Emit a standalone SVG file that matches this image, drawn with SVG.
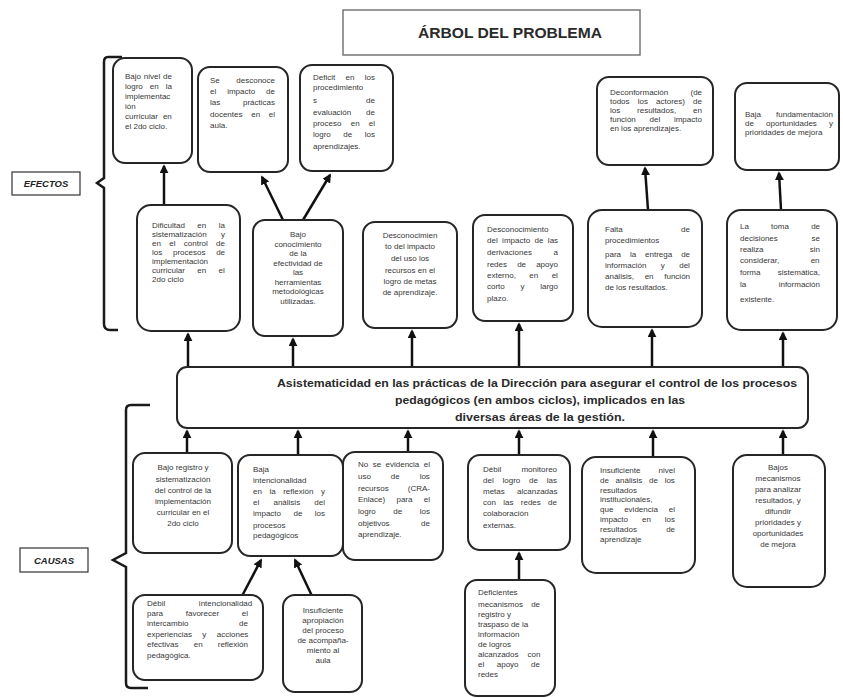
<svg xmlns="http://www.w3.org/2000/svg" width="843" height="698" viewBox="0 0 843 698">
  <style>
    .box { fill: #fff; stroke: #262626; stroke-width: 2; }
    .t { font-family: "Liberation Sans", Arial, sans-serif; font-size: 8px; fill: #383838; }
    .c { text-anchor: middle; }
    .lbl { font-family: "Liberation Sans", Arial, sans-serif; font-size: 9.5px; font-weight: bold; font-style: italic; fill: #222; }
    .arr { stroke: #111; stroke-width: 2.5; fill: none; marker-end: url(#ah); }
    .brace { stroke: #1a1a1a; stroke-width: 2.5; fill: none; }
  </style>
  <defs>
    <marker id="ah" viewBox="0 0 10 10" refX="8" refY="5" markerWidth="9" markerHeight="9" markerUnits="userSpaceOnUse" orient="auto">
      <path d="M0,0 L10,5 L0,10 z" fill="#111"/>
    </marker>
  </defs>
  <rect width="843" height="698" fill="#fff"/>

  <!-- title -->
  <g id="title">
    <rect x="343" y="10" width="297" height="45" fill="#fff" stroke="#777" stroke-width="1.5"/>
    <text x="510" y="38" text-anchor="middle" textLength="184" lengthAdjust="spacingAndGlyphs" style="font-family:'Liberation Sans',Arial,sans-serif;font-size:15px;font-weight:bold;fill:#2a2a2a">ÁRBOL DEL PROBLEMA</text>
  </g>

  <!-- side labels with braces -->
  <g id="efectos">
    <path class="brace" d="M122,57 L108,57 Q104,57 104,62 L104,178 L97,183 L104,188 L104,324 Q104,330 110,330 L118,330"/>
    <rect x="12" y="172" width="68" height="23" fill="#fff" stroke="#333" stroke-width="1.2"/>
    <text class="lbl" x="46" y="187" text-anchor="middle">EFECTOS</text>
  </g>
  <g id="causas">
    <path class="brace" d="M150,405 L131,405 Q126,405 126,410 L126,553 L113,560 L126,567 L126,683 Q126,688 131,688 L148,688"/>
    <rect x="20" y="548" width="68" height="24" fill="#fff" stroke="#333" stroke-width="1.2"/>
    <text class="lbl" x="54" y="564" text-anchor="middle">CAUSAS</text>
  </g>

  <!-- connectors -->
  <g id="connectors">
    <line class="arr" x1="164" y1="205" x2="164" y2="166"/>
    <line class="arr" x1="283" y1="220" x2="262" y2="177"/>
    <line class="arr" x1="303" y1="220" x2="330" y2="175"/>
    <line class="arr" x1="648" y1="210" x2="645" y2="168"/>
    <line class="arr" x1="781" y1="210" x2="779" y2="173"/>

    <line class="arr" x1="188" y1="367" x2="188" y2="334"/>
    <line class="arr" x1="293" y1="367" x2="293" y2="339"/>
    <line class="arr" x1="412" y1="367" x2="412" y2="331"/>
    <line class="arr" x1="519" y1="367" x2="519" y2="324"/>
    <line class="arr" x1="652" y1="367" x2="652" y2="330"/>
    <line class="arr" x1="783" y1="367" x2="783" y2="333"/>

    <line class="arr" x1="187" y1="453" x2="187" y2="431"/>
    <line class="arr" x1="298" y1="455" x2="298" y2="431"/>
    <line class="arr" x1="408" y1="452" x2="408" y2="431"/>
    <line class="arr" x1="519" y1="455" x2="519" y2="431"/>
    <line class="arr" x1="653" y1="457" x2="653" y2="431"/>
    <line class="arr" x1="783" y1="455" x2="783" y2="431"/>

    <line class="arr" x1="242" y1="596" x2="261" y2="560"/>
    <line class="arr" x1="312" y1="596" x2="295" y2="560"/>
    <line class="arr" x1="519" y1="580" x2="519" y2="553"/>
  </g>

  <!-- effects, top row -->
  <g id="e1">
    <rect class="box" x="113" y="58" width="79" height="105" rx="12"/>
    <text class="t" x="125" y="79" style="word-spacing:0.6px">Bajo nivel de</text>
    <text class="t" x="125" y="89" style="word-spacing:4.8px">logro en la</text>
    <text class="t" x="125" y="99">implementac</text>
    <text class="t" x="125" y="109">ión</text>
    <text class="t" x="125" y="119" style="word-spacing:2.8px">curricular en</text>
    <text class="t" x="125" y="129">el 2do ciclo.</text>
  </g>
  <g id="e2">
    <rect class="box" x="198" y="67" width="90" height="105" rx="12"/>
    <text class="t" x="210" y="83" style="word-spacing:14.3px">Se desconoce</text>
    <text class="t" x="210" y="94" style="word-spacing:8.7px">el impacto de</text>
    <text class="t" x="210" y="105" style="word-spacing:20.5px">las prácticas</text>
    <text class="t" x="210" y="117" style="word-spacing:6.5px">docentes en el</text>
    <text class="t" x="210" y="128">aula.</text>
  </g>
  <g id="e3">
    <rect class="box" x="300" y="65" width="93" height="106" rx="12"/>
    <text class="t" x="313" y="80" style="word-spacing:8.1px">Deficit en los</text>
    <text class="t" x="313" y="90">procedimiento</text>
    <text class="t" x="313" y="103" style="word-spacing:46.9px">s de</text>
    <text class="t" x="313" y="115" style="word-spacing:12.6px">evaluación de</text>
    <text class="t" x="313" y="126" style="word-spacing:7px">proceso en el</text>
    <text class="t" x="313" y="137" style="word-spacing:10.3px">logro de los</text>
    <text class="t" x="313" y="149">aprendizajes.</text>
  </g>
  <g id="e4">
    <rect class="box" x="597" y="77" width="116" height="88" rx="12"/>
    <text class="t" x="610" y="95" style="word-spacing:20px">Deconformación (de</text>
    <text class="t" x="610" y="104" style="word-spacing:5.9px">todos los actores) de</text>
    <text class="t" x="610" y="113" style="word-spacing:14.6px">los resultados, en</text>
    <text class="t" x="610" y="122" style="word-spacing:11.5px">función del impacto</text>
    <text class="t" x="610" y="131">en los aprendizajes.</text>
  </g>
  <g id="e5">
    <rect class="box" x="735" y="83" width="104" height="87" rx="12"/>
    <text class="t" x="745" y="117" style="word-spacing:12.8px">Baja fundamentación</text>
    <text class="t" x="745" y="126" style="word-spacing:10px">de oportunidades y</text>
    <text class="t" x="745" y="135">prioridades de mejora</text>
  </g>

  <!-- effects, second row -->
  <g id="eA">
    <rect class="box" x="137" y="205" width="103" height="126" rx="14"/>
    <text class="t" x="152" y="228" style="word-spacing:10.2px">Dificultad en la</text>
    <text class="t" x="152" y="237" style="word-spacing:12.1px">sistematización y</text>
    <text class="t" x="152" y="246" style="word-spacing:6.1px">en el control de</text>
    <text class="t" x="152" y="255" style="word-spacing:8.5px">los procesos de</text>
    <text class="t" x="152" y="264">implementación</text>
    <text class="t" x="152" y="273" style="word-spacing:10.1px">curricular en el</text>
    <text class="t" x="152" y="282">2do ciclo</text>
  </g>
  <g id="eB">
    <rect class="box" x="253" y="220" width="90" height="116" rx="12"/>
    <text class="t c" x="298" y="237">Bajo</text>
    <text class="t c" x="298" y="246.5">conocimiento</text>
    <text class="t c" x="298" y="256">de la</text>
    <text class="t c" x="298" y="265.5">efectividad de</text>
    <text class="t c" x="298" y="275">las</text>
    <text class="t c" x="298" y="284.5">herramientas</text>
    <text class="t c" x="298" y="294">metodológicas</text>
    <text class="t c" x="298" y="303.5">utilizadas.</text>
  </g>
  <g id="eC">
    <rect class="box" x="363" y="222" width="94" height="106" rx="12"/>
    <text class="t c" x="410" y="238">Desconocimien</text>
    <text class="t c" x="410" y="249">to del impacto</text>
    <text class="t c" x="410" y="261">del uso los</text>
    <text class="t c" x="410" y="273">recursos en el</text>
    <text class="t c" x="410" y="284">logro de metas</text>
    <text class="t c" x="410" y="295">de aprendizaje.</text>
  </g>
  <g id="eD">
    <rect class="box" x="473" y="215" width="100" height="106" rx="12"/>
    <text class="t" x="487" y="232">Desconocimiento</text>
    <text class="t" x="487" y="243" style="word-spacing:2.2px">del impacto de las</text>
    <text class="t" x="487" y="255" style="word-spacing:19.4px">derivaciones a</text>
    <text class="t" x="487" y="267" style="word-spacing:7.9px">redes de apoyo</text>
    <text class="t" x="487" y="278" style="word-spacing:11.2px">externo, en el</text>
    <text class="t" x="487" y="289" style="word-spacing:13.5px">corto y largo</text>
    <text class="t" x="487" y="301">plazo.</text>
  </g>
  <g id="eE">
    <rect class="box" x="588" y="210" width="114" height="117" rx="14"/>
    <text class="t" x="605" y="232" style="word-spacing:56px">Falta de</text>
    <text class="t" x="605" y="243">procedimientos</text>
    <text class="t" x="605" y="257" style="word-spacing:6.7px">para la entrega de</text>
    <text class="t" x="605" y="268" style="word-spacing:12.2px">información y del</text>
    <text class="t" x="605" y="279" style="word-spacing:8.5px">análisis, en función</text>
    <text class="t" x="605" y="290">de los resultados.</text>
  </g>
  <g id="eF">
    <rect class="box" x="727" y="210" width="110" height="120" rx="14"/>
    <text class="t" x="740" y="229" style="word-spacing:20px">La toma de</text>
    <text class="t" x="740" y="241" style="word-spacing:31.5px">decisiones se</text>
    <text class="t" x="740" y="252" style="word-spacing:44px">realiza sin</text>
    <text class="t" x="740" y="263" style="word-spacing:29.3px">considerar, en</text>
    <text class="t" x="740" y="275" style="word-spacing:15.1px">forma sistemática,</text>
    <text class="t" x="740" y="287" style="word-spacing:30.2px">la información</text>
    <text class="t" x="740" y="302">existente.</text>
  </g>

  <!-- central problem -->
  <g id="problem">
    <rect class="box" x="177" y="367" width="631" height="61" rx="10" stroke-width="2.5"/>
    <g style="font-family:'Liberation Sans',Arial,sans-serif;font-size:11px;font-weight:bold;fill:#2a2a2a" text-anchor="middle">
      <text x="537" y="387" textLength="520" lengthAdjust="spacingAndGlyphs">Asistematicidad en las prácticas de la Dirección para asegurar el control de los procesos</text>
      <text x="540" y="404" textLength="290" lengthAdjust="spacingAndGlyphs">pedagógicos (en ambos ciclos), implicados en las</text>
      <text x="540" y="421" textLength="170" lengthAdjust="spacingAndGlyphs">diversas áreas de la gestión.</text>
    </g>
  </g>

  <!-- causes, first row -->
  <g id="cG">
    <rect class="box" x="133" y="453" width="99" height="100" rx="12"/>
    <text class="t c" x="183" y="470">Bajo registro y</text>
    <text class="t c" x="183" y="482">sistematización</text>
    <text class="t c" x="183" y="493">del control de la</text>
    <text class="t c" x="183" y="504">implementación</text>
    <text class="t c" x="183" y="515">curricular en el</text>
    <text class="t c" x="183" y="526">2do ciclo</text>
  </g>
  <g id="cH">
    <rect class="box" x="238" y="455" width="105" height="101" rx="12"/>
    <text class="t" x="253" y="472">Baja</text>
    <text class="t" x="253" y="483">intencionalidad</text>
    <text class="t" x="253" y="494" style="word-spacing:5.3px">en la reflexión y</text>
    <text class="t" x="253" y="505" style="word-spacing:12px">el análisis del</text>
    <text class="t" x="253" y="516" style="word-spacing:10.2px">impacto de los</text>
    <text class="t" x="253" y="528">procesos</text>
    <text class="t" x="253" y="538">pedagógicos</text>
  </g>
  <g id="cI">
    <rect class="box" x="343" y="452" width="100" height="108" rx="12"/>
    <text class="t" x="358" y="467" style="word-spacing:2.2px">No se evidencia el</text>
    <text class="t" x="358" y="479" style="word-spacing:17.7px">uso de los</text>
    <text class="t" x="358" y="491" style="word-spacing:16.9px">recursos (CRA-</text>
    <text class="t" x="358" y="502" style="word-spacing:9.1px">Enlace) para el</text>
    <text class="t" x="358" y="514" style="word-spacing:15.3px">logro de los</text>
    <text class="t" x="358" y="526" style="word-spacing:29.3px">objetivos de</text>
    <text class="t" x="358" y="537">aprendizaje.</text>
  </g>
  <g id="cJ">
    <rect class="box" x="468" y="455" width="102" height="95" rx="12"/>
    <text class="t" x="483" y="472" style="word-spacing:18px">Débil monitoreo</text>
    <text class="t" x="483" y="483" style="word-spacing:6.6px">del logro de las</text>
    <text class="t" x="483" y="494" style="word-spacing:10px">metas alcanzadas</text>
    <text class="t" x="483" y="505" style="word-spacing:5.1px">con las redes de</text>
    <text class="t" x="483" y="516">colaboración</text>
    <text class="t" x="483" y="528">externas.</text>
  </g>
  <g id="cK">
    <rect class="box" x="582" y="457" width="113" height="116" rx="14"/>
    <text class="t" x="600" y="473" style="word-spacing:15.9px">Insuficiente nivel</text>
    <text class="t" x="600" y="483" style="word-spacing:4.5px">de análisis de los</text>
    <text class="t" x="600" y="493">resultados</text>
    <text class="t" x="600" y="502">institucionales,</text>
    <text class="t" x="600" y="512" style="word-spacing:8.6px">que evidencia el</text>
    <text class="t" x="600" y="522" style="word-spacing:11.7px">impacto en los</text>
    <text class="t" x="600" y="532" style="word-spacing:27px">resultados de</text>
    <text class="t" x="600" y="542">aprendizaje</text>
  </g>
  <g id="cL">
    <rect class="box" x="733" y="455" width="92" height="132" rx="14"/>
    <text class="t c" x="778" y="470">Bajos</text>
    <text class="t c" x="778" y="481">mecanismos</text>
    <text class="t c" x="778" y="492">para analizar</text>
    <text class="t c" x="778" y="503">resultados, y</text>
    <text class="t c" x="778" y="514">difundir</text>
    <text class="t c" x="778" y="525">prioridades y</text>
    <text class="t c" x="778" y="536">oportunidades</text>
    <text class="t c" x="778" y="547">de mejora</text>
  </g>

  <!-- causes, second row -->
  <g id="cM">
    <rect class="box" x="133" y="595" width="130" height="85" rx="12"/>
    <text class="t" x="147" y="606" style="word-spacing:31.4px">Débil intencionalidad</text>
    <text class="t" x="147" y="616" style="word-spacing:20.5px">para favorecer el</text>
    <text class="t" x="147" y="626" style="word-spacing:48.5px">intercambio de</text>
    <text class="t" x="147" y="637" style="word-spacing:8.2px">experiencias y acciones</text>
    <text class="t" x="147" y="647" style="word-spacing:12.9px">efectivas en reflexión</text>
    <text class="t" x="147" y="658">pedagógica.</text>
  </g>
  <g id="cN">
    <rect class="box" x="283" y="595" width="79" height="97" rx="12"/>
    <text class="t c" x="323" y="613">Insuficiente</text>
    <text class="t c" x="323" y="623">apropiación</text>
    <text class="t c" x="323" y="633">del proceso</text>
    <text class="t c" x="323" y="643">de acompaña-</text>
    <text class="t c" x="323" y="653">miento al</text>
    <text class="t c" x="323" y="663">aula</text>
  </g>
  <g id="cO">
    <rect class="box" x="465" y="580" width="90" height="116" rx="12"/>
    <text class="t" x="478" y="595">Deficientes</text>
    <text class="t" x="478" y="607" style="word-spacing:6px">mecanismos de</text>
    <text class="t" x="478" y="617">registro y</text>
    <text class="t" x="478" y="627">traspaso de la</text>
    <text class="t" x="478" y="637">información</text>
    <text class="t" x="478" y="647">de logros</text>
    <text class="t" x="478" y="657" style="word-spacing:6.9px">alcanzados con</text>
    <text class="t" x="478" y="667" style="word-spacing:10.3px">el apoyo de</text>
    <text class="t" x="478" y="677">redes</text>
  </g>
</svg>
